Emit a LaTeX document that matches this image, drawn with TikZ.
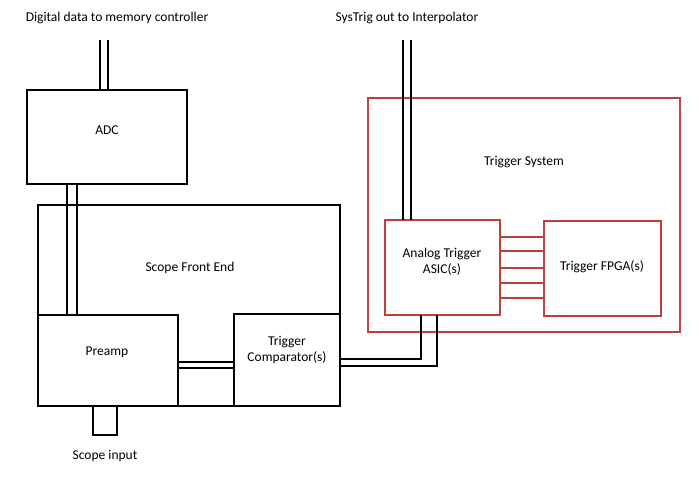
\documentclass[tikz,border=0pt]{standalone}
\usepackage{fontspec}
\setmainfont{Carlito}
\definecolor{rd}{RGB}{192,64,64}
\begin{document}
\begin{tikzpicture}[x=1pt,y=-1pt,
  blk/.style={draw=black,line width=1.6pt,fill=white},
  rblk/.style={draw=rd,line width=1.4pt},
  wire/.style={line width=1.5pt,black},
  bus/.style={line width=1.2pt,rd},
  lbl/.style={font=\fontsize{13.5}{16}\selectfont,align=center}]
\useasboundingbox (0,0) rectangle (700,481);
\draw[rblk] (368,98) rectangle (680,332);
\node[lbl] (ts) at (524,162) {Trigger System};
% boxes
\draw[blk] (38,205) rectangle (340,406);
\draw[blk] (27,90) rectangle (187,184);
\draw[blk] (38,315) rectangle (178,406);
\draw[blk] (234,314) rectangle (340,406);
\draw[blk] (93,406) rectangle (117,435);
\draw[rblk,fill=white] (385,220) rectangle (500,315);
\draw[rblk,fill=white] (544,221) rectangle (661,316);
\coordinate (adct1) at (100,90); \coordinate (adct2) at (108,90);
\coordinate (top1) at (100,40); \coordinate (top2) at (108,40);
\draw[wire] (top1) -- (adct1); \draw[wire] (top2) -- (adct2);
\coordinate (a1) at (67,184); \coordinate (a2) at (77,184);
\coordinate (p1) at (67,315); \coordinate (p2) at (77,315);
\draw[wire] (a1) -- (p1); \draw[wire] (a2) -- (p2);
\coordinate (s1) at (403,40); \coordinate (s2) at (411,40);
\coordinate (as1) at (403,220); \coordinate (as2) at (411,220);
\draw[wire] (s1) -- (as1); \draw[wire] (s2) -- (as2);
\coordinate (pr1) at (178,362); \coordinate (pr2) at (178,368);
\coordinate (tc1) at (234,362); \coordinate (tc2) at (234,368);
\draw[line width=1.2pt] (pr1) -- (tc1); \draw[line width=1.2pt] (pr2) -- (tc2);
\coordinate (c1) at (340,359); \coordinate (c2) at (340,366);
\coordinate (b1) at (421,315); \coordinate (b2) at (437,315);
\draw[wire] (c1) -| (b1); \draw[wire] (c2) -| (b2);
\foreach \y in {237,251,268,283,298} \draw[bus] (500,\y) -- (544,\y);
% labels
\node[lbl] (t1) at (117,18) {Digital data to memory controller};
\node[lbl] (t2) at (407,18) {SysTrig out to Interpolator};
\node[lbl] (adc) at (107,130) {ADC};
\node[lbl] (sfe) at (190,268) {Scope Front End};
\node[lbl] (pre) at (107,352) {Preamp};
\node[lbl] (tc) at (287,350) {Trigger\\Comparator(s)};
\node[lbl] (asic) at (442,262) {Analog Trigger\\ASIC(s)};
\node[lbl] (fpga) at (602,267) {Trigger FPGA(s)};
\node[lbl] (si) at (105,456) {Scope input};
\end{tikzpicture}
\end{document}
